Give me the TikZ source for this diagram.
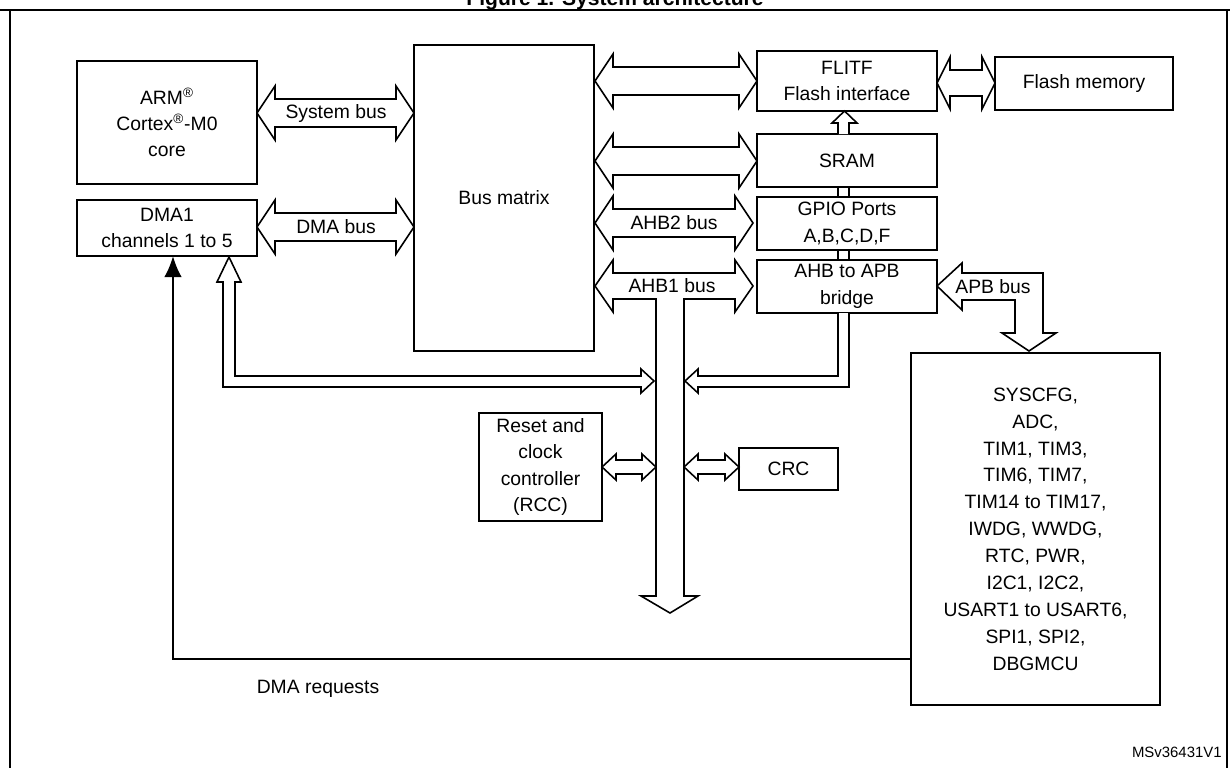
\documentclass[tikz,border=0pt]{standalone}
\usepackage{fontspec}
\setmainfont{Liberation Sans}
\usetikzlibrary{arrows.meta}
\begin{document}
\begin{tikzpicture}[x=0.02cm,y=-0.02cm,line join=miter,
  box/.style={draw,line width=1pt,inner sep=0pt,outer sep=0pt,align=center,font=\fontsize{11}{15}\selectfont},
  lbl/.style={font=\fontsize{11}{13}\selectfont,inner sep=0pt},
  ba/.style={draw,line width=0.9pt,fill=white}]
\useasboundingbox (0,0) rectangle (1230,768);
\newcommand\bx[6]{\node[box,minimum width={(#4-#2)*0.02cm},minimum height={(#5-#3)*0.02cm}] (#1) at ({(#2+#4)/2},{(#3+#5)/2}) {#6};}
% frame and title
\node[font=\bfseries\fontsize{12}{14}\selectfont,anchor=base] (title) at (615,5) {Figure 1. System architecture};
\draw[line width=0.9pt] (0,10) -- (1230,10);
\draw[line width=0.9pt] (10,10) -- (10,768);
\draw[line width=0.9pt] (1227,10) -- (1227,768);
% boxes
\bx{arm}{77}{61}{257}{184}{ARM\textsuperscript{\textregistered}\\Cortex\textsuperscript{\textregistered}-M0\\core}
\bx{dma}{77}{200}{257}{256}{DMA1\\channels 1 to 5}
\bx{bm}{414}{45}{594}{351}{Bus matrix}
\bx{flitf}{757}{51}{937}{111}{FLITF\\Flash interface}
\bx{flash}{995}{57}{1173}{110}{Flash memory}
\bx{sram}{757}{134}{937}{187}{SRAM}
\bx{gpio}{757}{197}{937}{250}{GPIO Ports\\A,B,C,D,F}
\bx{bridge}{757}{260}{937}{313}{AHB to APB\\bridge}
\bx{rcc}{479}{413}{602}{521}{Reset and\\clock\\controller\\(RCC)}
\bx{crc}{739}{448}{838}{490}{CRC}
\node[box,minimum width={249*0.02cm},minimum height={352*0.02cm},font=\fontsize{11}{15.3}\selectfont] (per) at (1035.5,529) {SYSCFG,\\ADC,\\TIM1, TIM3,\\TIM6, TIM7,\\TIM14 to TIM17,\\IWDG, WWDG,\\RTC, PWR,\\I2C1, I2C2,\\USART1 to USART6,\\SPI1, SPI2,\\DBGMCU};
% double block arrows: \dba{xl}{xr}{yc}{shaft half}{head half}{head len}
\newcommand\dba[6]{\draw[ba] (#1,#3) -- ++(#6,-#5) -- ++(0,#5-#4) -- (#2-#6,#3-#4) -- ++(0,#4-#5) -- (#2,#3) -- (#2-#6,#3+#5) -- ++(0,#4-#5) -- (#1+#6,#3+#4) -- ++(0,#5-#4) -- cycle;}
\dba{257}{414}{113}{14}{27}{18}
\node[lbl] (sysbus) at (336,113) {System bus};
\dba{257}{414}{227}{14}{27}{18}
\node[lbl] (dmabus) at (336,227) {DMA bus};
\dba{595}{757}{81}{14}{27}{18}
\dba{595}{757}{161}{14}{27}{18}
\dba{595}{753}{223}{14}{27}{18}
\node[lbl] (ahb2) at (674,223) {AHB2 bus};
\dba{937}{995}{83}{13}{26}{13}
\dba{602}{656}{467}{7}{13}{14}
\dba{684}{739}{467}{7}{13}{14}
% AHB1 bus with vertical trunk
\draw[ba] (595,286) -- (613,260) -- (613,273) -- (735,273) -- (735,260) -- (753,286) -- (735,312) -- (735,299) -- (684,299) -- (684,596) -- (698,596) -- (670,613) -- (641,596) -- (656,596) -- (656,299) -- (613,299) -- (613,312) -- cycle;
\node[lbl] (ahb1) at (672,286) {AHB1 bus};
% DMA hollow arrow
\draw[ba] (229,257) -- (241,282) -- (235,282) -- (235,376) -- (641,376) -- (641,369) -- (654,381) -- (641,393) -- (641,387) -- (223,387) -- (223,282) -- (217,282) -- cycle;
% bridge arrow
\draw[ba] (838,313) -- (838,376) -- (698,376) -- (698,369) -- (685,381) -- (698,393) -- (698,387) -- (849,387) -- (849,313);
% flitf up arrow and stubs
\draw[ba] (838,134) -- (838,123) -- (832,123) -- (844.5,111) -- (857,123) -- (849,123) -- (849,134);
\draw[line width=0.9pt] (838,187) -- (838,197) (849,187) -- (849,197) (838,250) -- (838,260) (849,250) -- (849,260);
% APB bus arrow
\draw[ba] (937,286) -- (962,263) -- (962,273) -- (1043,273) -- (1043,333) -- (1056,333) -- (1029,351) -- (1002,333) -- (1015,333) -- (1015,300) -- (962,300) -- (962,310) -- cycle;
\node[lbl] (apb) at (993,287) {APB bus};
% DMA requests
\coordinate (c1) at (173,659);
\draw[line width=1.2pt,-{Latex[length=12pt,width=10pt]}] (per.west |- c1) -- (c1) -- (dma.south -| c1);
\node[lbl] (dmareq) at (318,689) {DMA requests};
\node[font=\fontsize{8.5}{10}\selectfont,anchor=east,inner sep=0pt] (ms) at (1222,752) {MSv36431V1};
\end{tikzpicture}
\end{document}
